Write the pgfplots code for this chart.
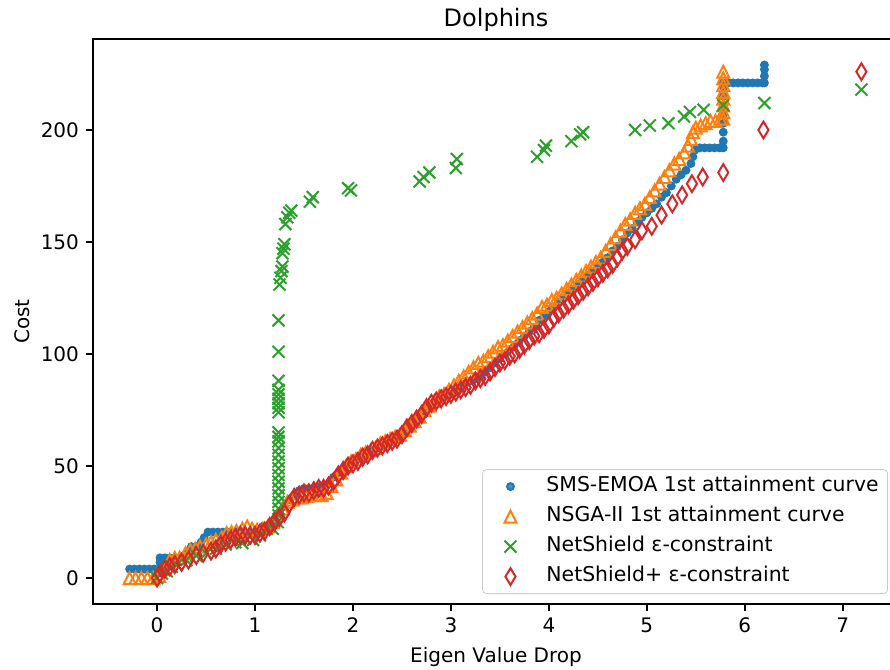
\documentclass[border=0pt]{standalone}
\usepackage{fontspec}
\setmainfont{DejaVu Sans}
\usepackage{pgfplots}
\pgfplotsset{compat=1.18}
\definecolor{C0}{HTML}{1F77B4}
\definecolor{C1}{HTML}{FF7F0E}
\definecolor{C2}{HTML}{2CA02C}
\definecolor{C3}{HTML}{D62728}
\pgfdeclareplotmark{mpltri}{%
  \pgfpathmoveto{\pgfqpoint{0pt}{\pgfplotmarksize}}%
  \pgfpathlineto{\pgfqpoint{-\pgfplotmarksize}{-\pgfplotmarksize}}%
  \pgfpathlineto{\pgfqpoint{\pgfplotmarksize}{-\pgfplotmarksize}}%
  \pgfpathclose\pgfusepathqstroke}
\pgfdeclareplotmark{mplx}{%
  \pgfpathmoveto{\pgfqpoint{-\pgfplotmarksize}{-\pgfplotmarksize}}%
  \pgfpathlineto{\pgfqpoint{\pgfplotmarksize}{\pgfplotmarksize}}%
  \pgfpathmoveto{\pgfqpoint{-\pgfplotmarksize}{\pgfplotmarksize}}%
  \pgfpathlineto{\pgfqpoint{\pgfplotmarksize}{-\pgfplotmarksize}}%
  \pgfusepathqstroke}
\pgfdeclareplotmark{mpld}{%
  \pgfpathmoveto{\pgfqpoint{0pt}{\pgfplotmarksize}}%
  \pgfpathlineto{\pgfqpoint{0.6\pgfplotmarksize}{0pt}}%
  \pgfpathlineto{\pgfqpoint{0pt}{-\pgfplotmarksize}}%
  \pgfpathlineto{\pgfqpoint{-0.6\pgfplotmarksize}{0pt}}%
  \pgfpathclose\pgfusepathqstroke}
\begin{document}
\begin{tikzpicture}
\begin{axis}[
  scale only axis, width=403pt, height=282.5pt,
  xmin=-0.654, xmax=7.574, ymin=-11.6, ymax=240.6,
  xtick={0,1,2,3,4,5,6,7}, ytick={0,50,100,150,200},
  tick align=outside, tick pos=left, major tick length=3.5pt,
  every tick/.style={black, line width=0.8pt},
  axis line style={line width=0.8pt},
  /pgf/number format/assume math mode=true,
  tick label style={font=\fontsize{10}{12}\selectfont},
  title={Dolphins},
  every axis title/.style={font=\fontsize{12}{14}\selectfont, at={(axis description cs:0.5,1)}, anchor=base, yshift=6pt, inner sep=0pt},
  xlabel={Eigen Value Drop}, ylabel={Cost},
  label style={font=\fontsize{10}{12}\selectfont},
  every axis x label/.style={at={(axis description cs:0.5,-0.094)}, anchor=center},
  every axis y label/.style={at={(axis description cs:-0.088,0.5)}, anchor=center, rotate=90},
  legend style={at={(axis description cs:0.9864,0.0177)}, anchor=south east,
    draw=black!20, rounded corners=2pt, fill=white, fill opacity=0.8, text opacity=1,
    font=\fontsize{10.2}{12}\selectfont, inner xsep=4.5pt, inner ysep=3.5pt,
    row sep=5pt, column sep=7.5pt,
    nodes={inner sep=0pt, text height=7.5pt, text depth=2.5pt}},
  legend cell align=left,
  legend image code/.code={\path[draw=none, fill=none] (0pt,-3pt) rectangle (20pt,3pt); \draw[#1] plot coordinates {(9.5pt,0pt)};},
]
\addplot[only marks, mark=*, mark size=1.7pt, C0, mark options={line width=1pt, fill=C0, draw=C0}] coordinates {
(-0.28,4)(-0.23,4)(-0.18,4)(-0.13,4)(-0.08,4)(-0.03,4)(0.02,4)(0.03,7)(0.03,9)(0.08,9)(0.13,9)(0.18,9)(0.23,9)(0.28,9)
(0.32,12)(0.35,14)(0.40,14)(0.45,16)(0.48,18)(0.52,20.5)(0.57,20.5)(0.62,20.5)(0.67,20.5)(0.72,20.5)(0.77,20.5)(0.82,20.5)(0.87,20.5)
(0.95,20)(1.0,20)(1.05,21)(1.1,22)(1.15,24)(1.2,26)(1.25,29)(1.3,32)(1.35,35)(1.4,37)(1.45,39)(1.5,40)(1.55,40)(1.6,40)(1.65,40.5)
(1.7,41)(1.75,42)(1.8,45)(1.85,47)(1.9,49)(1.95,51)(2.0,52)(2.05,53)(2.1,54)(2.15,56)(2.2,57)(2.25,58)(2.3,59)(2.35,60)(2.4,62)
(2.45,63)(2.5,64)(2.55,66)(2.6,68)(2.65,70)(2.7,72)(2.75,75)(2.8,77)(2.85,79)(2.9,80)(2.95,81)(3.0,82)(3.05,83)(3.1,85)(3.15,87)
(3.2,88)(3.25,89)(3.3,90)(3.35,92)(3.4,94)(3.45,96)(3.5,98)(3.55,100)(3.6,102)(3.65,104)(3.7,106)(3.75,108)(3.8,110)(3.85,112)
(3.9,115)(3.95,117)(4.0,119)(4.05,121)(4.1,123)(4.15,125)(4.2,127)(4.25,129)(4.3,131)(4.35,133)(4.4,135)(4.45,137)(4.5,139)
(4.55,141)(4.6,143)(4.65,146)(4.7,148)(4.75,151)(4.8,154)(4.85,156)(4.9,159)(4.95,161)(5.0,163)(5.05,165)(5.1,167)(5.15,170)
(5.2,172)(5.25,175)(5.3,178)(5.35,180)(5.4,182)(5.45,185)(5.47,188)(5.49,191)(5.54,192)(5.59,192)(5.64,192)(5.69,192)(5.74,192)
(5.78,192)(5.78,195)(5.78,199)(5.78,203)(5.78,207)(5.78,211)(5.78,215)(5.78,219)(5.78,221)(5.83,221)(5.88,221)(5.93,221)
(5.98,221)(6.03,221)(6.08,221)(6.13,221)(6.18,221)(6.2,221)(6.2,224)(6.2,227)(6.2,229)
};
\addlegendentry{SMS-EMOA 1st attainment curve}
\addplot[only marks, mark=mpltri, mark size=3pt, C1, mark options={line width=1pt}] coordinates {
(-0.28,0)(-0.22,0)(-0.16,0)(-0.10,0)(-0.04,0)(0.02,1)(0.07,4)(0.13,8)(0.18,9)(0.23,9)(0.29,11)(0.34,12.5)(0.39,13)(0.44,14)
(0.50,15)(0.55,16)(0.60,17)(0.66,18)(0.71,20)(0.76,20.5)(0.81,21)(0.87,22)(0.92,23)(0.97,22)(1.02,21.5)(1.08,22)(1.13,23)
(1.18,25)(1.23,28)(1.28,31)(1.33,34)(1.38,35)(1.43,36)(1.48,36)(1.53,36.5)(1.58,37)(1.63,37)(1.68,37)(1.73,38)(1.78,41)
(1.83,44)(1.88,47)(1.93,50)(1.98,52)(2.03,53)(2.08,55)(2.13,56)(2.18,57)(2.23,58)(2.28,60)(2.33,61)(2.38,62)(2.43,63)
(2.48,64)(2.53,66)(2.58,68)(2.63,70)(2.68,72)(2.73,75)(2.78,77)(2.83,79)(2.88,81)(2.93,82)(2.98,84)(3.03,86)(3.08,88)
(3.13,90)(3.18,92)(3.23,94)(3.28,96)(3.33,97)(3.38,99)(3.43,101)(3.48,103)(3.53,104)(3.58,106)(3.63,108)(3.68,110)
(3.73,112)(3.78,114)(3.83,116)(3.88,118)(3.93,121)(3.98,122)(4.03,124)(4.08,125)(4.13,127)(4.18,129)(4.23,131)(4.28,133)
(4.33,135)(4.38,137)(4.43,139)(4.48,141)(4.53,143)(4.58,146)(4.63,149)(4.68,152)(4.73,155)(4.78,158)(4.83,160)(4.88,163)
(4.93,165)(4.98,167)(5.03,170)(5.08,173)(5.13,176)(5.18,179)(5.23,182)(5.28,185)(5.33,187)(5.38,190)(5.42,193)(5.45,196)
(5.47,199)(5.50,201)(5.55,202)(5.60,203)(5.65,204)(5.70,204)(5.75,205)(5.78,205)(5.78,208)(5.78,211)(5.78,214)(5.78,217)
(5.78,220)(5.78,223)(5.78,226)
};
\addlegendentry{NSGA-II 1st attainment curve}
\addplot[only marks, mark=mplx, mark size=3pt, C2, mark options={line width=1pt}] coordinates {
(0.0,0)(0.05,2)(0.1,3)(0.15,5)(0.2,6)(0.3,8)(0.4,10)(0.5,11)(0.6,13)(0.7,15)(0.8,16)(0.87,15.6)(0.98,17)(1.05,19)(1.12,22)
(1.18,22)(1.23,25)(1.24,28)(1.24,31)(1.24,34)(1.24,37)(1.24,40)(1.24,43)(1.24,46)(1.24,49)(1.24,52)(1.24,55)(1.24,58)
(1.24,61)(1.24,63)(1.24,65)(1.24,74)(1.24,76)(1.24,78)(1.24,80)(1.24,82)(1.24,84)(1.24,88)(1.24,101)(1.24,115)(1.25,131)
(1.26,134)(1.27,137)(1.28,139)(1.28,145)(1.29,147)(1.30,149)(1.31,158)(1.33,161)(1.35,163)(1.37,164)(1.56,168)(1.59,170)
(1.95,174)(1.98,173)(2.68,177)(2.72,179)(2.78,181)(3.05,183)(3.06,187)(3.88,188)(3.95,191)(3.97,193)(4.23,195)(4.32,198)
(4.35,199)(4.88,200)(5.03,202)(5.22,203)(5.38,206)(5.44,208)(5.58,209)(5.78,211)(6.2,212)(7.19,218)
};
\addlegendentry{NetShield ε-constraint}
\addplot[only marks, mark=mpld, mark size=4.2pt, C3, mark options={line width=1pt}] coordinates {
(0.0,0)(0.03,2)(0.08,4)(0.13,5)(0.18,6)(0.25,7)(0.32,8)(0.4,10)(0.47,11)(0.55,12)(0.6,13)(0.65,15)(0.7,16)(0.75,17)(0.8,18)
(0.85,19)(0.9,19)(0.95,19)(1.0,19)(1.05,20)(1.1,21)(1.15,23)(1.2,25)(1.25,27)(1.3,29)(1.35,33)(1.4,36)(1.45,37)(1.5,38)
(1.55,38)(1.6,39)(1.65,40)(1.7,40)(1.75,41)(1.8,43)(1.85,46)(1.9,48)(1.95,50)(2.0,51)(2.05,52)(2.1,54)(2.15,55)(2.2,57)
(2.25,58)(2.3,59)(2.35,60)(2.4,61)(2.45,62)(2.5,64)(2.55,67)(2.6,69)(2.65,71)(2.7,73)(2.75,76)(2.8,78)(2.85,79)(2.9,80)
(2.95,81)(3.0,82)(3.05,83)(3.1,84)(3.15,85)(3.2,86)(3.25,88)(3.3,89)(3.35,90)(3.4,92)(3.45,94)(3.5,96)(3.55,97)(3.6,99)
(3.65,100)(3.7,102)(3.75,104)(3.8,106)(3.85,108)(3.9,109)(3.95,111)(4.0,113)(4.05,116)(4.1,118)(4.15,120)(4.2,122)
(4.25,124)(4.3,126)(4.35,128)(4.4,130)(4.45,132)(4.5,134)(4.55,136)(4.6,138)(4.65,140)(4.7,143)(4.75,146)(4.8,148)
(4.88,151)(4.95,155)(5.05,157)(5.15,162)(5.26,167)(5.36,171)(5.46,176)(5.57,179)(5.78,181)(6.19,200)(7.19,226)
};
\addlegendentry{NetShield+ ε-constraint}
\end{axis}
\pgfresetboundingbox
\path[use as bounding box] (-46.5pt,-33pt) rectangle (398.5pt,302pt);
\end{tikzpicture}
\end{document}
